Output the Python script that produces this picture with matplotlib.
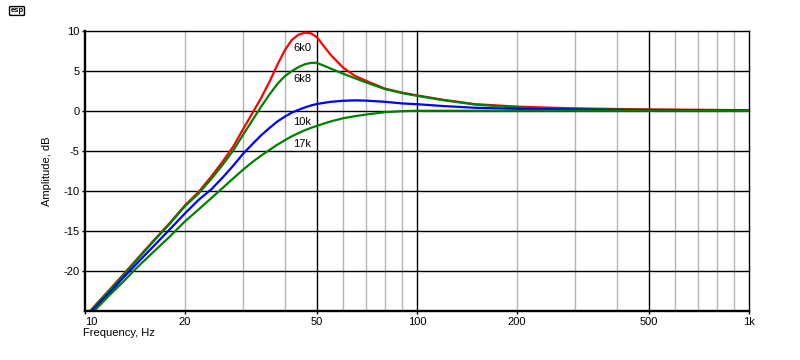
import matplotlib
matplotlib.use('Agg')
import matplotlib.pyplot as plt

# ---- data ----
freq = [10, 11, 12, 13, 14, 15, 16, 18, 20, 22, 24, 26, 28, 30, 32, 34, 36, 38, 40,
        42, 44, 46, 48, 50, 55, 60, 65, 70, 80, 90, 100, 120, 150, 200, 250, 300,
        400, 500, 700, 1000]

db_6k0 = [-25.7, -23.8, -22.1, -20.5, -19.0, -17.6, -16.3, -14.0, -11.8, -10.1, -8.2,
          -6.3, -4.4, -2.2, -0.2, 1.7, 3.7, 5.8, 7.6, 8.9, 9.55, 9.8, 9.7, 9.2, 7.0,
          5.4, 4.4, 3.8, 2.8, 2.3, 1.95, 1.4, 0.85, 0.55, 0.42, 0.33, 0.25, 0.2,
          0.15, 0.1]

db_6k8 = [-25.8, -23.9, -22.2, -20.6, -19.1, -17.7, -16.4, -14.1, -11.9, -10.3, -8.5,
          -6.7, -4.9, -2.9, -1.1, 0.6, 2.1, 3.4, 4.35, 5.0, 5.5, 5.85, 6.02, 6.02,
          5.3, 4.65, 4.1, 3.6, 2.75, 2.25, 1.9, 1.35, 0.8, 0.45, 0.33, 0.27, 0.18,
          0.14, 0.1, 0.08]

db_10k = [-25.9, -24.1, -22.5, -20.9, -19.5, -18.2, -17.0, -14.8, -12.8, -11.1, -9.8,
          -8.3, -6.8, -5.3, -4.1, -3.0, -2.1, -1.3, -0.7, -0.2, 0.15, 0.45, 0.7, 0.88,
          1.15, 1.28, 1.33, 1.3, 1.15, 0.95, 0.85, 0.62, 0.4, 0.27, 0.23, 0.18, 0.13,
          0.1, 0.07, 0.05]

db_17k = [-26.2, -24.4, -22.8, -21.4, -20.0, -18.8, -17.7, -15.7, -13.8, -12.3, -10.9,
          -9.6, -8.4, -7.3, -6.35, -5.55, -4.85, -4.2, -3.65, -3.15, -2.75, -2.4, -2.1,
          -1.85, -1.3, -0.9, -0.65, -0.45, -0.15, -0.02, 0.03, 0.03, 0.03, 0.03,
          0.03, 0.03, 0.03, 0.03, 0.03, 0.03]

series = [("6k0", db_6k0, "#ff0000", 7.9),
          ("6k8", db_6k8, "#008000", 4.0),
          ("10k", db_10k, "#0000ff", -1.4),
          ("17k", db_17k, "#008000", -4.1)]

x_ticks = [10, 20, 50, 100, 200, 500, 1000]
x_ticklabels = ["10", "20", "50", "100", "200", "500", "1k"]
y_ticks = [-20, -15, -10, -5, 0, 5, 10]
x_black_grid = [50, 100, 500, 1000]
x_gray_grid = [20, 30, 40, 60, 70, 80, 90, 200, 300, 400, 600, 700, 800, 900]
label_x = 42.3

plt.rcParams['font.family'] = ['Liberation Sans', 'DejaVu Sans']

fig = plt.figure(figsize=(8, 3.6), dpi=100)
ax = fig.add_axes([85 / 800, 1 - 311 / 360, 664 / 800, 280 / 360])
ax.set_xscale('log')
ax.set_xlim(10, 1000)
ax.set_ylim(-25, 10)

for f in x_gray_grid:
    ax.axvline(f, color='#b4b4b4', lw=1.0, zorder=1, clip_on=False)
for f in x_black_grid:
    ax.axvline(f, color='black', lw=1.0, zorder=1.5, clip_on=False)
for y in y_ticks:
    ax.axhline(y, color='black', lw=1.0, zorder=1.5, clip_on=False)

for name, vals, col, ly in series:
    ax.plot(freq, vals, color=col, lw=1.6, zorder=3)
    ax.text(label_x, ly, name, ha='left', va='center', fontsize=8, zorder=4)

ax.set_xticks(x_ticks)
ax.set_xticklabels(x_ticklabels)
ax.minorticks_off()
ax.set_yticks(y_ticks)
ax.set_yticklabels([str(v) for v in y_ticks])
ax.tick_params(axis='both', direction='out', length=2.5, width=1, pad=1.5,
               labelsize=8, colors='black')
xl = ax.get_xticklabels()
xl[0].set_ha('left')

for s in ['top', 'right']:
    ax.spines[s].set_visible(False)
for s in ['left', 'bottom']:
    ax.spines[s].set_linewidth(1.7)
    ax.spines[s].set_zorder(5)

fig.text(83 / 800, 1 - 333 / 360, 'Frequency, Hz', ha='left', va='center', fontsize=8)
fig.text(47 / 800, 1 - 171 / 360, 'Amplitude, dB', ha='center', va='center',
         rotation=90, fontsize=8)
fig.text(17 / 800, 1 - 11 / 360, 'esp', ha='center', va='center', fontsize=5.5,
         fontweight='bold',
         bbox=dict(boxstyle='round,pad=0.12', fc='white', ec='black', lw=1))

fig.savefig('out.png', dpi=100)
